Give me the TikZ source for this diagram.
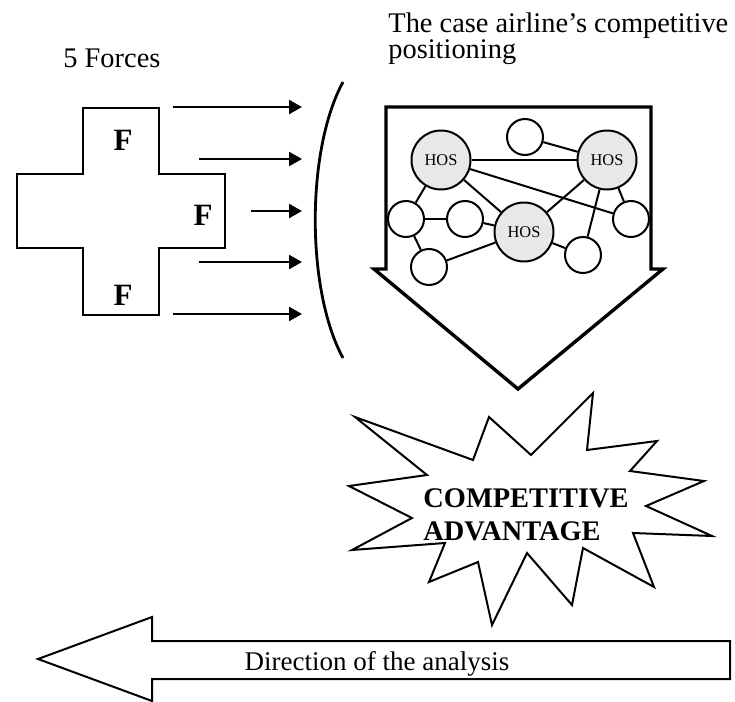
\documentclass[tikz,border=0pt]{standalone}
\usepackage{fontspec}
\setmainfont{Liberation Serif}
\usetikzlibrary{arrows.meta}
\begin{document}
\begin{tikzpicture}[x=0.5pt,y=-0.5pt,
  outline/.style={draw=black,line width=1.4pt,line join=miter},
  force/.style={line width=1.2pt,-{Triangle[length=6.5pt,width=7pt]}},
  hos/.style={circle,draw=black,line width=1pt,fill=black!9,minimum size=29.5pt,inner sep=0pt,font=\fontsize{8.2}{9}\selectfont},
  sm/.style={circle,draw=black,line width=1pt,fill=white,minimum size=18pt,inner sep=0pt},
  link/.style={line width=1pt},
  bigF/.style={font=\fontsize{15.5}{18}\selectfont\bfseries,inner sep=0pt},
  lbl/.style={font=\fontsize{14.2}{16}\selectfont,inner sep=0pt}]
\useasboundingbox (0,0) rectangle (735,702);

% titles
\node[lbl,anchor=base west] (t5) at (63,67) {5 Forces};
\node[lbl,anchor=base west] (tc1) at (388,32) {The case airline’s competitive};
\node[lbl,anchor=base west] (tc2) at (388,58) {positioning};

% cross
\draw[outline] (83,108) -- (159,108) -- (159,174) -- (225,174) -- (225,248) -- (159,248)
  -- (159,315) -- (83,315) -- (83,248) -- (17,248) -- (17,174) -- (83,174) -- cycle;
\node[bigF] (f1) at (123,140) {F};
\node[bigF] (f2) at (203,215) {F};
\node[bigF] (f3) at (123,295) {F};

% force arrows
\coordinate (a1s) at (173,107); \coordinate (a1e) at (302,107);
\coordinate (a2s) at (199,159); \coordinate (a2e) at (302,159);
\coordinate (a3s) at (251,211); \coordinate (a3e) at (302,211);
\coordinate (a4s) at (199,262); \coordinate (a4e) at (302,262);
\coordinate (a5s) at (173,314); \coordinate (a5e) at (302,314);
\draw[force] (a1s) -- (a1e);
\draw[force] (a2s) -- (a2e);
\draw[force] (a3s) -- (a3e);
\draw[force] (a4s) -- (a4e);
\draw[force] (a5s) -- (a5e);

% parenthesis
\coordinate (pt) at (343,82); \coordinate (pb) at (343,358);
\draw[line width=1.4pt] (pt) .. controls (306,150) and (306,290) .. (pb);

% down arrow
\draw[draw=black,line width=1.7pt,line join=miter] (386,107) -- (651,107) -- (651,269) -- (663,269)
  -- (518,389) -- (374,269) -- (386,269) -- cycle;

% network
\node[hos] (h1) at (441,160) {HOS};
\node[hos] (h2) at (607,160) {HOS};
\node[hos] (h3) at (524,232) {HOS};
\node[sm] (s0) at (525,137) {};
\node[sm] (sa) at (406,219) {};
\node[sm] (sb) at (465,219) {};
\node[sm] (sc) at (429,267) {};
\node[sm] (sd) at (583,255) {};
\node[sm] (se) at (631,219) {};
\draw[link] (s0) -- (h2);
\draw[link] (h1) -- (h2);
\draw[link] (h1) -- (sa);
\draw[link] (h1) -- (h3);
\draw[link] (h1) -- (se);
\draw[link] (sa) -- (sb);
\draw[link] (sa) -- (sc);
\draw[link] (sb) -- (h3);
\draw[link] (sc) -- (h3);
\draw[link] (h2) -- (h3);
\draw[link] (h2) -- (sd);
\draw[link] (h2) -- (se);
\draw[link] (h3) -- (sd);

% starburst
\draw[draw=black,line width=1pt,line join=miter]
  (355,417) -- (473,460) -- (489,417) -- (531,455) -- (593,393) -- (587,450)
  -- (657,441) -- (630,471) -- (704,481) -- (646,506) -- (712,536) -- (633,533)
  -- (654,587) -- (583,548) -- (572,605) -- (527,553) -- (492,625) -- (478,562)
  -- (429,582) -- (445,543) -- (352,550) -- (412,518) -- (349,486) -- (427,475) -- cycle;
\node[font=\fontsize{14.2}{16.5}\selectfont\bfseries,inner sep=0pt,anchor=base west] (ca1) at (423,507) {COMPETITIVE};
\node[font=\fontsize{14.2}{16.5}\selectfont\bfseries,inner sep=0pt,anchor=base west] (ca2) at (423,540) {ADVANTAGE};

% bottom arrow
\draw[draw=black,line width=1pt,line join=miter] (38,659) -- (152,617) -- (152,641) -- (730,641)
  -- (730,679) -- (152,679) -- (152,701) -- cycle;
\node[font=\fontsize{13.5}{16}\selectfont,inner sep=0pt,anchor=base] (dir) at (377,670) {Direction of the analysis};
\end{tikzpicture}
\end{document}
